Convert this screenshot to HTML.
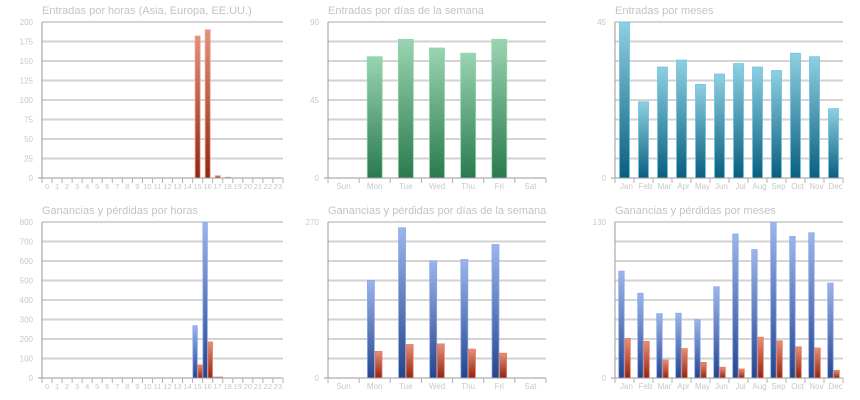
<!DOCTYPE html>
<html><head><meta charset="utf-8"><style>
html,body{margin:0;padding:0;background:#fff;}
svg{display:block;font-family:"Liberation Sans",sans-serif;}
</style></head><body>
<svg id="s" width="860" height="400" viewBox="0 0 860 400" xmlns="http://www.w3.org/2000/svg">
<defs>
<linearGradient id="gr" x1="0" y1="0" x2="0" y2="1"><stop offset="0" stop-color="#e4907a"/><stop offset="1" stop-color="#922510"/></linearGradient>
<linearGradient id="gg" x1="0" y1="0" x2="0" y2="1"><stop offset="0" stop-color="#9ad4b2"/><stop offset="1" stop-color="#2a7a4e"/></linearGradient>
<linearGradient id="gt" x1="0" y1="0" x2="0" y2="1"><stop offset="0" stop-color="#8ed0e2"/><stop offset="1" stop-color="#0a5e7e"/></linearGradient>
<linearGradient id="gb" x1="0" y1="0" x2="0" y2="1"><stop offset="0" stop-color="#9cb6ea"/><stop offset="1" stop-color="#24458e"/></linearGradient>
</defs>
</svg>
<script>
var s=document.getElementById('s'),h='';
var H=[];for(var i=0;i<24;i++)H.push(''+i);
var D=['Sun','Mon','Tue','Wed','Thu','Fri','Sat'];
var M=['Jan','Feb','Mar','Apr','May','Jun','Jul','Aug','Sep','Oct','Nov','Dec'];
function z(n){var a=[];for(var i=0;i<n;i++)a.push(0);return a;}
var h1=z(24);h1[15]=182;h1[16]=190;h1[17]=3;h1[18]=1;
var h4b=z(24),h4r=z(24);h4b[15]=268;h4r[15]=67;h4b[16]=800;h4r[16]=185;h4b[17]=5;h4r[17]=5;h4b[18]=1;
var C=[
{t:'Entradas por horas (Asia, Europa, EE.UU.)',x0:42,x1:283,y0:22,cat:H,max:200,lab:[0,25,50,75,100,125,150,175,200],s:[{d:h1,f:'gr',k:'#e8a090'}],w:5},
{t:'Entradas por días de la semana',x0:328,x1:546,y0:22,cat:D,max:90,lab:[0,45,90],s:[{d:[0,70,80,75,72,80,0],f:'gg',k:'#8fd8aa'}],w:15},
{t:'Entradas por meses',x0:615,x1:843,y0:22,cat:M,max:45,lab:[0,45],s:[{d:[45,22,32,34,27,30,33,32,31,36,35,20],f:'gt',k:'#6cc4e0'}],w:10},
{t:'Ganancias y pérdidas por horas',x0:42,x1:283,y0:222,cat:H,max:800,lab:[0,100,200,300,400,500,600,700,800],s:[{d:h4b,f:'gb',k:'#8aa8ee'},{d:h4r,f:'gr',k:'#ea7a60'}],w:4.5},
{t:'Ganancias y pérdidas por días de la semana',x0:328,x1:546,y0:222,cat:D,max:270,lab:[0,270],s:[{d:[0,169,260,203,205,231,0],f:'gb',k:'#8aa8ee'},{d:[0,46,58,59,50,43,0],f:'gr',k:'#ea7a60'}],w:7},
{t:'Ganancias y pérdidas por meses',x0:615,x1:843,y0:222,cat:M,max:130,lab:[0,130],s:[{d:[89,70.6,53.6,54,48.6,76,120,107,130,118,121,79],f:'gb',k:'#8aa8ee'},{d:[33,30.5,15,24.5,13,9,7.5,34,31,26,25,6.4],f:'gr',k:'#ea7a60'}],w:5.5}
];
C.forEach(function(c){
 var ph=156,yb=c.y0+ph,n=c.cat.length,sl=(c.x1-c.x0)/n;
 h+='<text x="'+c.x0+'" y="'+(c.y0-8)+'" font-size="11" fill="#c4c4c4">'+c.t+'</text>';
 for(var g=1;g<=8;g++){var y=yb-g*ph/8;
  h+= g%2==0?'<line x1="'+c.x0+'" x2="'+c.x1+'" y1="'+y+'" y2="'+y+'" stroke="#a8a8a8" stroke-width="1"/>':'<line x1="'+c.x0+'" x2="'+c.x1+'" y1="'+y+'" y2="'+y+'" stroke="#d2d2d2" stroke-width="2"/>';}
 c.lab.forEach(function(v){var y=yb-v/c.max*ph;h+='<text x="'+(c.x0-9)+'" y="'+(y+3)+'" font-size="8" fill="#c8c8c8" text-anchor="end">'+v+'</text>';});
 var ns=c.s.length,tw=ns*c.w+(ns-1)*0.6;
 c.s.forEach(function(se,si){se.d.forEach(function(v,i){if(v<=0)return;var bh=v/c.max*ph;var cx=c.x0+(i+0.5)*sl-tw/2+si*(c.w+0.6);
  h+='<rect x="'+cx+'" y="'+(yb-bh)+'" width="'+c.w+'" height="'+bh+'" fill="url(#'+se.f+')" stroke="'+se.k+'" stroke-width="0.8"/>';});});
 h+='<line x1="'+c.x0+'" x2="'+c.x0+'" y1="'+c.y0+'" y2="'+(yb+5)+'" stroke="#9a9a9a" stroke-width="1"/>';
 h+='<line x1="'+(c.x0-4)+'" x2="'+c.x1+'" y1="'+yb+'" y2="'+yb+'" stroke="#9a9a9a" stroke-width="1"/>';
 for(var i=0;i<=n;i++){var x=c.x0+i*sl;h+='<line x1="'+x+'" x2="'+x+'" y1="'+yb+'" y2="'+(yb+5)+'" stroke="#b0b0b0" stroke-width="1"/>';}
 c.cat.forEach(function(l,i){h+='<text x="'+(c.x0+(i+0.5)*sl+(n==12?2:0))+'" y="'+(yb+11)+'" font-size="'+(n==24?7.5:8)+'" fill="#c8c8c8" text-anchor="middle">'+l+'</text>';});
});
s.insertAdjacentHTML('beforeend',h);
</script>
</body></html>
